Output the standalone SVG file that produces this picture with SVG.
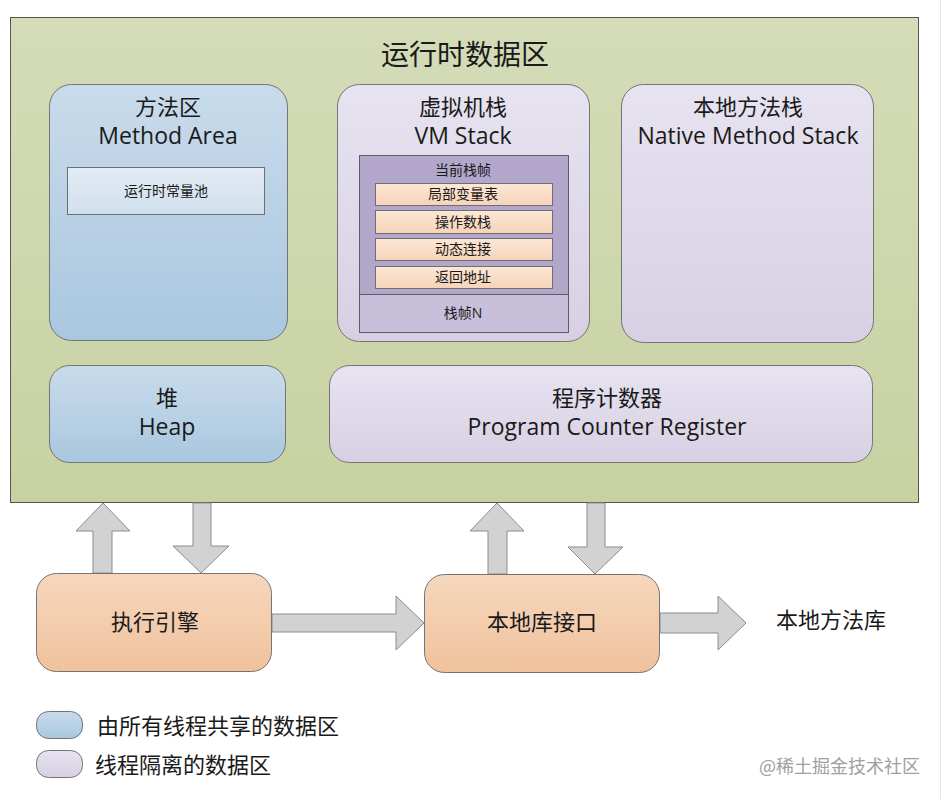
<svg xmlns="http://www.w3.org/2000/svg" width="942" height="799" viewBox="0 0 942 799">
<defs>
<linearGradient id="gGreen" x1="0" y1="0" x2="0" y2="1"><stop offset="0" stop-color="#d4dcb8"/><stop offset="1" stop-color="#c7d2a2"/></linearGradient>
<linearGradient id="gBlue" x1="0" y1="0" x2="0" y2="1"><stop offset="0" stop-color="#c9dbeb"/><stop offset="1" stop-color="#a9c7df"/></linearGradient>
<linearGradient id="gLav" x1="0" y1="0" x2="0" y2="1"><stop offset="0" stop-color="#e7e3f0"/><stop offset="1" stop-color="#d7d0e3"/></linearGradient>
<linearGradient id="gOrange" x1="0" y1="0" x2="0" y2="1"><stop offset="0" stop-color="#f6d7bd"/><stop offset="1" stop-color="#f0c29d"/></linearGradient>
<linearGradient id="gPeach" x1="0" y1="0" x2="0" y2="1"><stop offset="0" stop-color="#fce7d6"/><stop offset="1" stop-color="#f7d3b8"/></linearGradient>
<linearGradient id="gPool" x1="0" y1="0" x2="0" y2="1"><stop offset="0" stop-color="#e3ebf4"/><stop offset="1" stop-color="#d1e0ed"/></linearGradient>
</defs>
<style>
.box{stroke:#747474;stroke-width:1}
.t{font-family:"Open Sans","Noto Sans CJK SC",sans-serif;fill:#1a1a1a;text-anchor:middle}
.zh{font-size:22px}
.en{font-size:23px}
.sm{font-size:14px}
.arr{fill:#d2d2d2;stroke:#8c8c8c;stroke-width:1}
.lg{font-family:"Noto Sans CJK SC",sans-serif;font-size:22px;fill:#1a1a1a}
</style>
<rect width="942" height="799" fill="#ffffff"/>
<line x1="940.5" y1="0" x2="940.5" y2="799" stroke="#e6e6e6"/>

<g id="runtime-data-area">
<rect x="10.5" y="17.5" width="908" height="485" fill="url(#gGreen)" stroke="#555" stroke-width="1"/>
<text class="t" x="465" y="65" font-size="28">运行时数据区</text>
</g>

<g id="method-area">
<rect class="box" x="49.5" y="84.5" width="238" height="256" rx="22" fill="url(#gBlue)"/>
<text class="t zh" x="168" y="115">方法区</text>
<text class="t en" x="168" y="144">Method Area</text>
<rect x="67.5" y="167.5" width="197" height="47" fill="url(#gPool)" stroke="#6e6e6e"/>
<text class="t sm" x="166" y="196">运行时常量池</text>
</g>

<g id="vm-stack">
<rect class="box" x="337.5" y="84.5" width="252" height="257" rx="22" fill="url(#gLav)"/>
<text class="t zh" x="463" y="115">虚拟机栈</text>
<text class="t en" x="463" y="144">VM Stack</text>
<rect x="359.5" y="155.5" width="209" height="177" fill="#c8bfda" stroke="#5e5e5e"/>
<rect x="359.5" y="155.5" width="209" height="139" fill="#b2a6cb" stroke="#5e5e5e"/>
<text class="t sm" x="463" y="175">当前栈帧</text>
<rect x="375.5" y="183.5" width="177" height="22" fill="url(#gPeach)" stroke="#6e6e6e"/>
<text class="t sm" x="463" y="199">局部变量表</text>
<rect x="375.5" y="210.5" width="177" height="23" fill="url(#gPeach)" stroke="#6e6e6e"/>
<text class="t sm" x="463" y="227">操作数栈</text>
<rect x="375.5" y="238.5" width="177" height="22" fill="url(#gPeach)" stroke="#6e6e6e"/>
<text class="t sm" x="463" y="254">动态连接</text>
<rect x="375.5" y="266.5" width="177" height="22" fill="url(#gPeach)" stroke="#6e6e6e"/>
<text class="t sm" x="463" y="282">返回地址</text>
<text class="t sm" x="463" y="318">栈帧N</text>
</g>

<g id="native-method-stack">
<rect class="box" x="621.5" y="84.5" width="252" height="258" rx="22" fill="url(#gLav)"/>
<text class="t zh" x="748" y="115">本地方法栈</text>
<text class="t en" x="748" y="144">Native Method Stack</text>
</g>

<g id="heap">
<rect class="box" x="49.5" y="365.5" width="236" height="97" rx="20" fill="url(#gBlue)"/>
<text class="t zh" x="167" y="406">堆</text>
<text class="t en" x="167" y="435">Heap</text>
</g>

<g id="program-counter">
<rect class="box" x="329.5" y="365.5" width="543" height="97" rx="20" fill="url(#gLav)"/>
<text class="t zh" x="607" y="406">程序计数器</text>
<text class="t en" x="607" y="435">Program Counter Register</text>
</g>

<g id="connectors">
<polygon class="arr" points="93,573 93,531 76,531 103,503 130,531 112,531 112,573"/>
<polygon class="arr" points="193,503 211,503 211,546 229,546 201,573 173,546 193,546"/>
<polygon class="arr" points="488,574 488,531 470,531 497,503 524,531 507,531 507,574"/>
<polygon class="arr" points="587,503 605,503 605,547 623,547 595,574 568,547 587,547"/>
<polygon class="arr" points="272,614 396,614 396,596 424,623 396,650 396,632 272,632"/>
<polygon class="arr" points="660,613 718,613 718,596 746,623 718,650 718,633 660,633"/>
</g>

<g id="execution-engine">
<rect class="box" x="36.5" y="573.5" width="235" height="98" rx="20" fill="url(#gOrange)"/>
<text class="t zh" x="155" y="630">执行引擎</text>
</g>

<g id="native-interface">
<rect class="box" x="424.5" y="574.5" width="235" height="98" rx="20" fill="url(#gOrange)"/>
<text class="t zh" x="542" y="630">本地库接口</text>
</g>

<g id="native-library">
<text class="t zh" x="831" y="628">本地方法库</text>
</g>

<g id="legend">
<rect class="box" x="36.5" y="711.5" width="46" height="27" rx="12" fill="url(#gBlue)"/>
<text class="lg" x="97" y="734">由所有线程共享的数据区</text>
<rect class="box" x="36.5" y="750.5" width="46" height="27" rx="12" fill="url(#gLav)"/>
<text class="lg" x="95" y="773">线程隔离的数据区</text>
<text x="920" y="773" font-family="'Noto Sans CJK SC',sans-serif" font-size="18" fill="#a0a0a0" text-anchor="end">@稀土掘金技术社区</text>
</g>
</svg>
